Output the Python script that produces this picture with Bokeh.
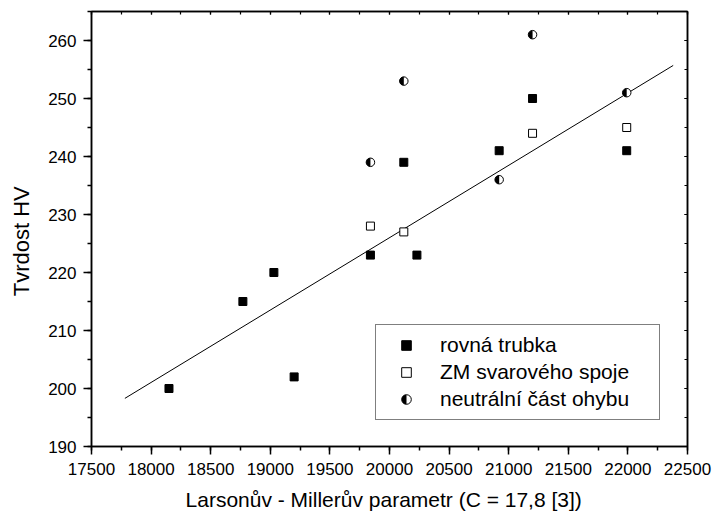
from bokeh.plotting import figure
from bokeh.models import (LinearAxis, Legend, LegendItem, CustomJS, Range1d,
                          SingleIntervalTicker)
from bokeh.embed import file_html
from bokeh.resources import INLINE

# ---- data ----
rovna_x = [18150, 18770, 19030, 19200, 19840, 20120, 20230, 20920, 21200, 21990]
rovna_y = [200, 215, 220, 202, 223, 239, 223, 241, 250, 241]

zm_x = [19840, 20120, 21200, 21990]
zm_y = [228, 227, 244, 245]

neutral_x = [19840, 20120, 20920, 21200, 21990]
neutral_y = [239, 253, 236, 261, 251]

fit_x = [17780, 22380]
fit_y = [198.3, 255.7]

x_label = "Larsonův - Millerův parametr (C = 17,8 [3])"
y_label = "Tvrdost HV"
series_labels = ["rovná trubka", "ZM svarového spoje", "neutrální část ohybu"]

FONT = "Liberation Sans"
NBSP = "\u00a0"

p = figure(width=712, height=515, output_backend="svg", toolbar_location=None,
           x_range=Range1d(17500, 22500), y_range=Range1d(190, 265),
           min_border_left=91, min_border_right=25, min_border_top=11,
           min_border_bottom=69, background_fill_color="white",
           border_fill_color="white")
p.grid.visible = False
p.outline_line_color = "black"
p.outline_line_width = 1.5

xt = SingleIntervalTicker(interval=500, num_minor_ticks=2)
yt = SingleIntervalTicker(interval=10, num_minor_ticks=2)

def style_main(ax, ticker, label_size):
    ax.ticker = ticker
    ax.axis_line_width = 1.5
    ax.major_tick_line_width = 1.5
    ax.minor_tick_line_width = 1.5
    ax.major_tick_out = 8
    ax.major_tick_in = 0
    ax.minor_tick_out = 4
    ax.minor_tick_in = 0
    ax.major_label_text_font = FONT
    ax.major_label_text_font_size = "17px"
    ax.major_label_text_color = "black"
    ax.axis_label_text_font = FONT
    ax.axis_label_text_font_size = label_size
    ax.axis_label_text_font_style = "normal"
    ax.axis_label_text_color = "black"

xa = p.xaxis[0]
ya = p.yaxis[0]
style_main(xa, xt, "21px")
style_main(ya, yt, "22px")
# trailing no-break spaces nudge the labels off-centre the way the reference places them
xa.axis_label = x_label + NBSP * 2
ya.axis_label = y_label + NBSP * 4
xa.major_label_standoff = 8
xa.axis_label_standoff = 10
ya.major_label_standoff = 7
ya.axis_label_standoff = 11

def style_mirror(ax, ticker):
    ax.ticker = ticker
    ax.axis_line_width = 1.5
    ax.major_tick_line_width = 1.2
    ax.minor_tick_line_width = 1.2
    ax.major_tick_out = 0
    ax.major_tick_in = 3
    ax.minor_tick_out = 0
    ax.minor_tick_in = 3
    ax.major_label_text_font_size = "0px"
    ax.major_label_standoff = 0

top = LinearAxis()
style_mirror(top, SingleIntervalTicker(interval=500, num_minor_ticks=2))
p.add_layout(top, "above")
right = LinearAxis()
style_mirror(right, SingleIntervalTicker(interval=10, num_minor_ticks=2))
p.add_layout(right, "right")

# fit line
p.line(fit_x, fit_y, line_color="black", line_width=1)

# custom half-filled circle marker (left half black)
half_circle = CustomJS(code="""
export default (args, obj, {ctx, i, r, visuals}) => {
  ctx.beginPath()
  ctx.arc(0, 0, r, 0, 2*Math.PI, false)
  ctx.fillStyle = "white"
  ctx.fill()
  ctx.beginPath()
  ctx.moveTo(0, -r)
  ctx.arc(0, 0, r, Math.PI/2, 3*Math.PI/2, false)
  ctx.closePath()
  ctx.fillStyle = "black"
  ctx.fill()
  ctx.beginPath()
  ctx.arc(0, 0, r, 0, 2*Math.PI, false)
  ctx.lineWidth = 1
  ctx.strokeStyle = "black"
  ctx.stroke()
}
""")

r1 = p.scatter(rovna_x, rovna_y, marker="square", size=8,
               fill_color="black", line_color="black", line_width=1)
r2 = p.scatter(zm_x, zm_y, marker="square", size=8,
               fill_color="white", line_color="black", line_width=1)
r3 = p.scatter(neutral_x, neutral_y, marker="@half", size=8.5,
               defs={"@half": half_circle},
               fill_color="white", line_color="black", line_width=1)

legend = Legend(items=[LegendItem(label=series_labels[0], renderers=[r1]),
                       LegendItem(label=series_labels[1], renderers=[r2]),
                       LegendItem(label=series_labels[2], renderers=[r3])],
                location=(284, 26))
legend.label_text_font = FONT
legend.label_text_font_size = "21px"
legend.label_text_color = "black"
legend.glyph_width = 44
legend.glyph_height = 24
legend.label_height = 24
legend.label_width = 211
legend.label_standoff = 12
legend.padding = 8
legend.spacing = 3
legend.margin = 0
legend.border_line_color = "black"
legend.border_line_width = 1
legend.background_fill_color = "white"
legend.background_fill_alpha = 1
p.add_layout(legend, "center")

open("out.html", "w").write(file_html(p, INLINE))
